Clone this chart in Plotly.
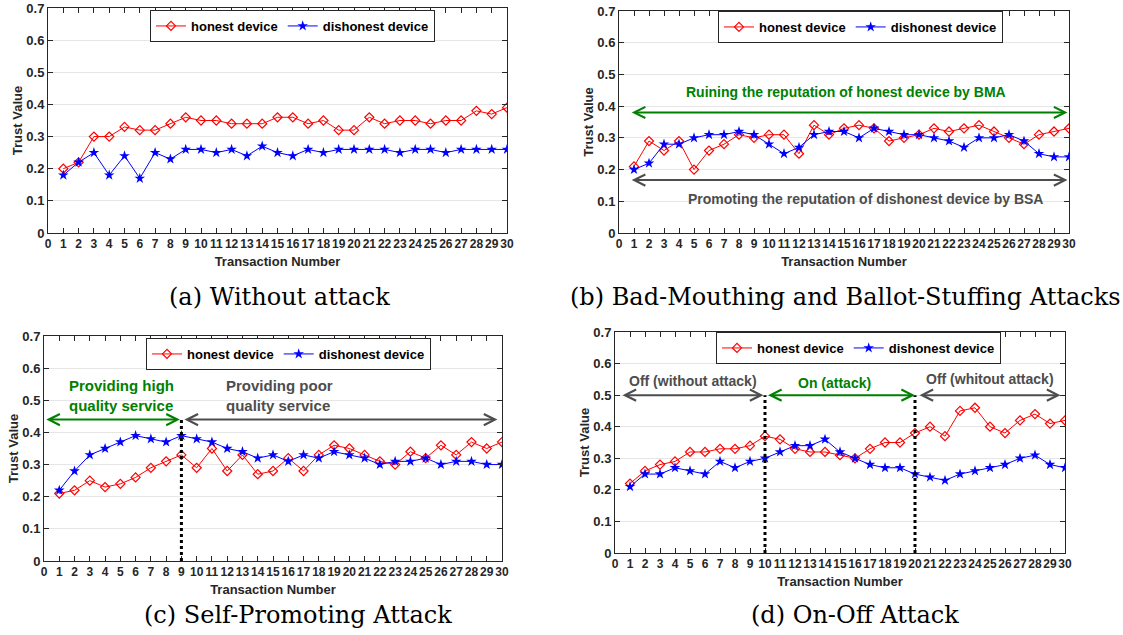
import plotly.graph_objects as go

# ---------------- data ----------------
transactions = list(range(1, 31))
x_tick_vals = list(range(0, 31))
y_tick_vals = [0, 0.1, 0.2, 0.3, 0.4, 0.5, 0.6, 0.7]
y_tick_text = ["0", "0.1", "0.2", "0.3", "0.4", "0.5", "0.6", "0.7"]

a_honest = [0.20, 0.22, 0.30, 0.30, 0.33, 0.32, 0.32, 0.34, 0.36, 0.35,
            0.35, 0.34, 0.34, 0.34, 0.36, 0.36, 0.34, 0.35, 0.32, 0.32,
            0.36, 0.34, 0.35, 0.35, 0.34, 0.35, 0.35, 0.38, 0.37, 0.39]
a_dishonest = [0.18, 0.22, 0.25, 0.18, 0.24, 0.17, 0.25, 0.23, 0.26, 0.26,
               0.25, 0.26, 0.24, 0.27, 0.25, 0.24, 0.26, 0.25, 0.26, 0.26,
               0.26, 0.26, 0.25, 0.26, 0.26, 0.25, 0.26, 0.26, 0.26, 0.26]

b_honest = [0.21, 0.29, 0.26, 0.29, 0.20, 0.26, 0.28, 0.31, 0.30, 0.31,
            0.31, 0.25, 0.34, 0.31, 0.33, 0.34, 0.33, 0.29, 0.30, 0.31,
            0.33, 0.32, 0.33, 0.34, 0.32, 0.30, 0.28, 0.31, 0.32, 0.33]
b_dishonest = [0.20, 0.22, 0.28, 0.28, 0.30, 0.31, 0.31, 0.32, 0.31, 0.28,
               0.25, 0.27, 0.31, 0.32, 0.32, 0.30, 0.33, 0.32, 0.31, 0.31,
               0.30, 0.29, 0.27, 0.30, 0.30, 0.31, 0.29, 0.25, 0.24, 0.24]

c_honest = [0.21, 0.22, 0.25, 0.23, 0.24, 0.26, 0.29, 0.31, 0.33, 0.29,
            0.35, 0.28, 0.33, 0.27, 0.28, 0.32, 0.28, 0.33, 0.36, 0.35,
            0.33, 0.31, 0.30, 0.34, 0.32, 0.36, 0.33, 0.37, 0.35, 0.37]
c_dishonest = [0.22, 0.28, 0.33, 0.35, 0.37, 0.39, 0.38, 0.37, 0.39, 0.38,
               0.37, 0.35, 0.34, 0.32, 0.33, 0.31, 0.33, 0.32, 0.34, 0.33,
               0.32, 0.30, 0.31, 0.31, 0.32, 0.30, 0.31, 0.31, 0.30, 0.30]

d_honest = [0.22, 0.26, 0.28, 0.29, 0.32, 0.32, 0.33, 0.33, 0.34, 0.37,
            0.36, 0.33, 0.32, 0.32, 0.31, 0.30, 0.33, 0.35, 0.35, 0.38,
            0.40, 0.37, 0.45, 0.46, 0.40, 0.38, 0.42, 0.44, 0.41, 0.42]
d_dishonest = [0.21, 0.25, 0.25, 0.27, 0.26, 0.25, 0.29, 0.27, 0.29, 0.30,
               0.32, 0.34, 0.34, 0.36, 0.32, 0.30, 0.28, 0.27, 0.27, 0.25,
               0.24, 0.23, 0.25, 0.26, 0.27, 0.28, 0.30, 0.31, 0.28, 0.27]

captions = ["(a) Without attack", "(b) Bad-Mouthing and Ballot-Stuffing Attacks",
            "(c) Self-Promoting Attack", "(d) On-Off Attack"]
series_names = ["honest device", "dishonest device"]

# ---------------- styling / layout ----------------
W, H = 1123, 635
# panel boxes in pixels: left, right, top, bottom
boxes = [(48, 507, 8, 233), (619, 1069, 11, 233), (44, 502, 336, 561), (615, 1065, 332, 553)]
legend_pos = [(150, 10), (718, 11), (146, 338), (716, 332)]
caption_pos = [(279, 297), (845, 297), (298, 615), (855, 615)]

AX_COLOR = "#262626"
GREEN = "#008000"
GRAY = "#4d4d4d"
XTICK_FONT = dict(family="Liberation Sans", size=12, color=AX_COLOR, weight="bold")
YTICK_FONT = dict(family="Liberation Sans", size=13, color=AX_COLOR, weight="bold")

fig = go.Figure()
data_sets = [(a_honest, a_dishonest), (b_honest, b_dishonest),
             (c_honest, c_dishonest), (d_honest, d_dishonest)]

for i, (hon, dis) in enumerate(data_sets):
    sfx = "" if i == 0 else str(i + 1)
    leg = "legend" if i == 0 else "legend" + str(i + 1)
    fig.add_trace(go.Scatter(
        x=transactions, y=hon, mode="lines+markers", name=series_names[0],
        line=dict(color="#ff0000", width=1),
        marker=dict(symbol="diamond-open", size=7, color="#ff0000", line=dict(width=1.2)),
        xaxis="x" + sfx, yaxis="y" + sfx, legend=leg))
    fig.add_trace(go.Scatter(
        x=transactions, y=dis, mode="lines+markers", name=series_names[1],
        line=dict(color="#0000ff", width=1),
        marker=dict(symbol="star", size=8, color="#0000ff"),
        xaxis="x" + sfx, yaxis="y" + sfx, legend=leg))

layout = dict(
    width=W, height=H, margin=dict(l=0, r=0, t=0, b=0, autoexpand=False),
    paper_bgcolor="white", plot_bgcolor="white", showlegend=True,
    font=dict(family="Liberation Sans", color=AX_COLOR),
)

for i, (l, r, t, b) in enumerate(boxes):
    sfx = "" if i == 0 else str(i + 1)
    xd = [l / W, r / W]
    yd = [1 - b / H, 1 - t / H]
    layout["xaxis" + sfx] = dict(
        domain=xd, range=[0, 30], anchor="y" + sfx, automargin=False,
        tickmode="array", tickvals=x_tick_vals,
        ticktext=[str(v) for v in x_tick_vals], tickangle=0,
        ticks="inside", ticklen=5, tickcolor=AX_COLOR,
        showline=True, linecolor=AX_COLOR, linewidth=1, mirror="ticks",
        showgrid=False, zeroline=False, tickfont=XTICK_FONT,
        title=dict(text="Transaction Number", standoff=6,
                   font=dict(family="Liberation Sans", size=13, color=AX_COLOR, weight="bold")),
    )
    layout["yaxis" + sfx] = dict(
        domain=yd, range=[0, 0.7], anchor="x" + sfx, automargin=False,
        tickmode="array", tickvals=y_tick_vals, ticktext=y_tick_text,
        ticks="inside", ticklen=5, tickcolor=AX_COLOR,
        showline=True, linecolor=AX_COLOR, linewidth=1, mirror="ticks",
        showgrid=True, gridcolor="#e6e6e6", gridwidth=1, zeroline=False,
        tickfont=YTICK_FONT,
        title=dict(text="Trust Value", standoff=0,
                   font=dict(family="Liberation Sans", size=13, color=AX_COLOR, weight="bold")),
    )
    lx, ly = legend_pos[i]
    key = "legend" if i == 0 else "legend" + str(i + 1)
    layout[key] = dict(
        x=lx / W, y=1 - ly / H, xanchor="left", yanchor="top",
        orientation="h", bgcolor="white", bordercolor=AX_COLOR, borderwidth=1,
        font=dict(family="Liberation Sans", size=13, color="black", weight="bold"),
        itemwidth=30, tracegroupgap=0,
    )

annotations = []
for i, cap in enumerate(captions):
    cx, cy = caption_pos[i]
    annotations.append(dict(
        text=cap, x=cx / W, y=1 - cy / H, xref="paper", yref="paper",
        xanchor="center", yanchor="middle", showarrow=False,
        font=dict(family="DejaVu Serif", size=24, color="black")))


def arrow(xr, yr, x0, x1, y, color):
    return dict(x=x1, y=y, ax=x0, ay=y, xref=xr, yref=yr, axref=xr, ayref=yr,
                text="", showarrow=True, arrowhead=5, startarrowhead=5,
                arrowside="end+start", arrowsize=1.1, startarrowsize=1.1,
                arrowwidth=2, arrowcolor=color)


def label(xr, yr, x, y, txt, color, xanchor="center", size=14):
    return dict(x=x, y=y, xref=xr, yref=yr, text=txt, showarrow=False,
                xanchor=xanchor, yanchor="middle", align="left",
                font=dict(family="Liberation Sans", size=size, color=color, weight="bold"))

# panel (b)
annotations.append(arrow("x2", "y2", 0.75, 29.9, 0.38, GREEN))
annotations.append(arrow("x2", "y2", 0.75, 29.9, 0.167, GRAY))
annotations.append(label("x2", "y2", 15.1, 0.445,
                         "Ruining the reputation of honest device by BMA", GREEN))
annotations.append(label("x2", "y2", 16.4, 0.107,
                         "Promoting the reputation of dishonest device by BSA", GRAY))
# panel (c)
annotations.append(arrow("x3", "y3", 0.05, 8.9, 0.44, GREEN))
annotations.append(arrow("x3", "y3", 9.1, 29.7, 0.44, GRAY))
annotations.append(label("x3", "y3", 1.5, 0.516, "Providing high<br>quality service", GREEN, "left", 15))
annotations.append(label("x3", "y3", 11.8, 0.516, "Providing poor<br>quality service", GRAY, "left", 15))
# panel (d)
annotations.append(arrow("x4", "y4", 0.4, 9.9, 0.5, GRAY))
annotations.append(arrow("x4", "y4", 10.1, 20.0, 0.5, GREEN))
annotations.append(arrow("x4", "y4", 20.2, 29.7, 0.5, GRAY))
annotations.append(label("x4", "y4", 5.2, 0.545, "Off (without attack)", GRAY))
annotations.append(label("x4", "y4", 14.6, 0.54, "On (attack)", GREEN))
annotations.append(label("x4", "y4", 25.0, 0.551, "Off (whitout attack)", GRAY))

shapes = [
    dict(type="line", xref="x3", yref="y3", x0=9, x1=9, y0=0, y1=0.44,
         line=dict(color="black", width=3, dash="dot")),
    dict(type="line", xref="x4", yref="y4", x0=10, x1=10, y0=0, y1=0.5,
         line=dict(color="black", width=3, dash="dot")),
    dict(type="line", xref="x4", yref="y4", x0=20, x1=20, y0=0, y1=0.5,
         line=dict(color="black", width=3, dash="dot")),
]

layout["annotations"] = annotations
layout["shapes"] = shapes
fig.update_layout(**layout)
fig.write_html("out.html")
